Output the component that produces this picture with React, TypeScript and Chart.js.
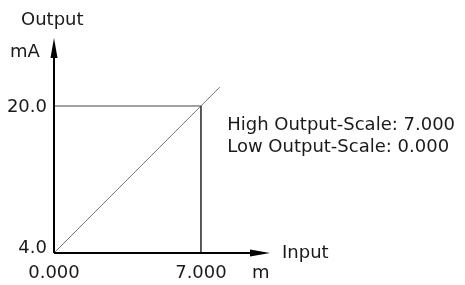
import React, { useEffect, useRef } from "react";
import { Chart, registerables } from "chart.js";
Chart.register(...registerables);

const xTickValues = [0, 7];
const xTickLabels = ["0.000", "7.000"];
const yTickValues = [4, 20];
const yTickLabels = ["4.0", "20.0"];
const diagonalX = [0, 7.9];
const diagonalY = [4, 22.06];
const guideX = [0, 7, 7];
const guideY = [20, 20, 4];
const xAxisMax = 10.29;
const yAxisMax = 27.4;
const infoLines = ["High Output-Scale: 7.000", "Low Output-Scale: 0.000"];

const FONT = '18px "DejaVu Sans", sans-serif';

const overlay = {
  id: "overlay",
  afterDatasetsDraw(chart: any) {
    const ctx = chart.ctx;
    const xs = chart.scales.x;
    const ys = chart.scales.y;
    const x0 = xs.getPixelForValue(0);
    const y0 = ys.getPixelForValue(4);
    const xEnd = xs.getPixelForValue(xAxisMax);
    const yEnd = ys.getPixelForValue(yAxisMax);
    ctx.save();
    ctx.strokeStyle = "#000";
    ctx.fillStyle = "#000";
    ctx.lineWidth = 2;
    ctx.beginPath();
    ctx.moveTo(x0, y0);
    ctx.lineTo(xEnd - 15, y0);
    ctx.moveTo(x0, y0);
    ctx.lineTo(x0, yEnd + 15);
    ctx.stroke();
    // arrows
    ctx.beginPath();
    ctx.moveTo(xEnd, y0);
    ctx.lineTo(xEnd - 20, y0 - 3.5);
    ctx.lineTo(xEnd - 20, y0 + 3.5);
    ctx.closePath();
    ctx.fill();
    ctx.beginPath();
    ctx.moveTo(x0, yEnd);
    ctx.lineTo(x0 - 3.5, yEnd + 20);
    ctx.lineTo(x0 + 3.5, yEnd + 20);
    ctx.closePath();
    ctx.fill();

    ctx.font = FONT;
    ctx.fillStyle = "#1a1a1a";
    ctx.textBaseline = "alphabetic";
    ctx.textAlign = "right";
    yTickValues.forEach((v, i) => {
      const py = ys.getPixelForValue(v);
      ctx.fillText(yTickLabels[i], x0 - 7, i === 0 ? py : py + 6);
    });
    ctx.textAlign = "center";
    xTickValues.forEach((v, i) => {
      const px = xs.getPixelForValue(v);
      ctx.fillText(xTickLabels[i], px, y0 + 25);
    });
    ctx.textAlign = "left";
    ctx.fillText("Output", 21, 25);
    ctx.fillText("mA", 10, 57);
    ctx.fillText("Input", xEnd + 12, y0 + 5);
    ctx.fillText("m", xEnd - 18, y0 + 25);
    const tx = xs.getPixelForValue(8.25);
    const ty = ys.getPixelForValue(18);
    ctx.fillText(infoLines[0], tx, ty + 6);
    ctx.fillText(infoLines[1], tx, ty + 28);
    ctx.restore();
  },
};

export default function App() {
  const ref = useRef<HTMLCanvasElement>(null);
  useEffect(() => {
    const chart = new Chart(ref.current!, {
      type: "scatter",
      data: {
        datasets: [
          {
            data: guideX.map((x, i) => ({ x, y: guideY[i] })),
            showLine: true,
            borderColor: "#444",
            borderWidth: 1,
            pointRadius: 0,
          },
          {
            data: diagonalX.map((x, i) => ({ x, y: diagonalY[i] })),
            showLine: true,
            borderColor: "#777",
            borderWidth: 1,
            pointRadius: 0,
          },
        ],
      },
      options: {
        animation: false,
        responsive: false,
        layout: { padding: { left: 54, right: 195, top: 38, bottom: 32 } },
        plugins: { legend: { display: false }, tooltip: { enabled: false } },
        scales: {
          x: { type: "linear", min: 0, max: xAxisMax, display: false },
          y: { type: "linear", min: 4, max: yAxisMax, display: false },
        },
      },
      plugins: [overlay],
    });
    return () => chart.destroy();
  }, []);
  return (
    <div style={{ position: "fixed", left: 0, top: 0, width: 465, height: 285, background: "#fff" }}>
      <canvas ref={ref} width={465} height={285} />
    </div>
  );
}
